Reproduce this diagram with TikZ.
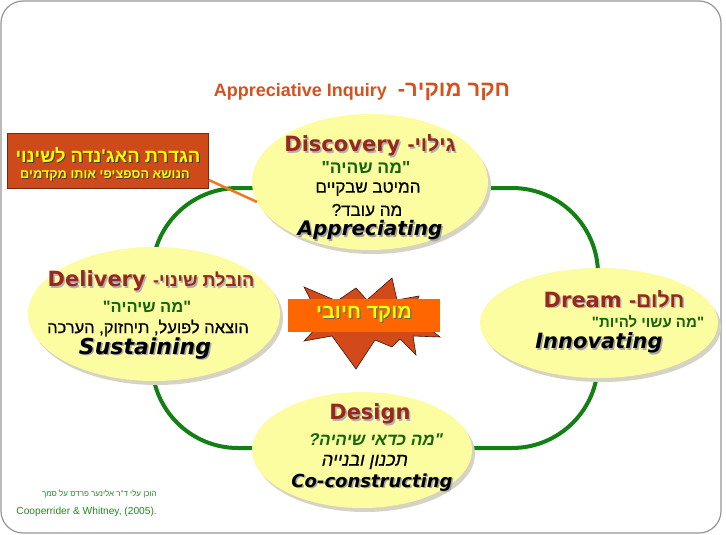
\documentclass[tikz,border=0pt]{standalone}
\usepackage{fontspec}
\usetikzlibrary{shapes.geometric,shadows}
\TeXXeTstate=1
\newfontfamily\heb[Script=Hebrew]{Liberation Sans}
\newfontfamily\hebm[Script=Hebrew,FakeBold=0.7]{Liberation Sans}
\newfontfamily\hebsl[Script=Hebrew,FakeSlant=0.2,FakeBold=0.7]{Liberation Sans}
\newfontfamily\hebslb[Script=Hebrew,FakeSlant=0.2]{Liberation Sans Bold}
\newfontfamily\vfont[ItalicFont={DejaVu Sans Oblique},BoldFont={DejaVu Sans Bold},BoldItalicFont={DejaVu Sans Bold Oblique}]{DejaVu Sans}
\newfontfamily\afont{Liberation Sans}
\newcommand\fsz[1]{\fontsize{#1}{#1}\selectfont}
\newcommand\shd[4]{\rlap{\kern#3\raisebox{-#3}{\color{#2}#4}}{\color{#1}#4}}
\definecolor{ellfill}{RGB}{252,252,160}
\definecolor{ellshadow}{RGB}{214,210,196}
\definecolor{ringgreen}{RGB}{18,128,18}
\definecolor{titred}{RGB}{150,40,30}
\definecolor{qgreen}{RGB}{20,100,10}
\definecolor{titleor}{RGB}{212,82,30}
\definecolor{boxred}{RGB}{207,74,26}
\definecolor{boxedge}{RGB}{120,40,15}
\definecolor{linkor}{RGB}{240,120,34}
\definecolor{starred}{RGB}{210,74,26}
\definecolor{focusor}{RGB}{255,102,0}
\definecolor{hl}{RGB}{255,255,0}
\definecolor{notegreen}{RGB}{30,140,30}
\definecolor{framegray}{RGB}{150,150,150}
\begin{document}
\begin{tikzpicture}[x=1pt,y=-1pt,
  ell/.style={ellipse, fill=ellfill, inner sep=0pt,
    drop shadow={shadow xshift=3pt,shadow yshift=-4pt,fill=ellshadow,opacity=1}},
  ttl/.style={font=\vfont\bfseries\fsz{21}, inner sep=0pt},
  quo/.style={font=\heb\bfseries\fsz{17.5}, text=qgreen, inner sep=0pt},
  hebline/.style={font=\hebm\fsz{17}, inner sep=0pt},
  eng/.style={font=\vfont\bfseries\itshape\fsz{20}, inner sep=0pt},
  note/.style={text=notegreen, anchor=east, inner sep=0pt},
]
\useasboundingbox[fill=white] (0,0) rectangle (726,535);
\draw[framegray, line width=1.2pt, rounded corners=22pt] (1,1) rectangle (721,533);

% ring
\node[rectangle, rounded corners=86pt, draw=ringgreen, line width=4pt, minimum width=446pt, minimum height=260pt, inner sep=0pt] (ring) at (375,318) {};

% ellipses
\node[ell, minimum width=236pt, minimum height=136pt] (disc) at (370,182) {};
\node[ell, minimum width=252pt, minimum height=134pt] (deliv) at (154,314) {};
\node[ell, minimum width=238pt, minimum height=110pt] (dream) at (599,323) {};
\node[ell, minimum width=220pt, minimum height=116pt] (design) at (362,450) {};

% title
\node[font=\afont\bfseries\fsz{18}, text=titleor, inner sep=0pt] (title) at (362,92)
  {Appreciative Inquiry\hspace{11pt}{\heb\bfseries\fsz{22}\beginR חקר מוקיר-\endR}};

% agenda box
\node[rectangle, fill=boxred, draw=boxedge, line width=0.8pt, minimum width=201pt, minimum height=55pt, inner sep=0pt] (agenda) at (108,161) {};
\node[font=\heb\bfseries\fsz{18.5}, inner sep=0pt] (ag1) at (108,156)
  {\shd{hl}{black!75}{1.2pt}{\beginR הגדרת האג'נדה לשינוי\endR}};
\node[font=\heb\bfseries\fsz{12.8}, inner sep=0pt] (ag2) at (105,176)
  {\shd{hl}{black!75}{1pt}{\beginR הנושא הספציפי אותו מקדמים\endR}};
\draw[linkor, line width=2.5pt] ([yshift=-19pt]agenda.east) -- (disc.190);

% Discovery
\node[ttl] (dT) at (370,146) {\shd{titred}{black!30}{1.5pt}{Discovery {\heb\bfseries\beginR גילוי-\endR}}};
\node[quo] (dQ) at (366,168) {\beginR "מה שהיה"\endR};
\node[hebline] (dL3) at (368,189) {\beginR המיטב שבקיים\endR};
\node[hebline] (dL4) at (367,210) {\beginR מה עובד?\endR};
\node[eng] (dE) at (370,231) {\shd{black}{black!35}{1.5pt}{Appreciating}};

% Delivery
\node[ttl] (vT) at (151,282) {\shd{titred}{black!30}{1.5pt}{Delivery {\heb\bfseries\fsz{18}\beginR הובלת שינוי-\endR}}};
\node[quo, font=\heb\bfseries\fsz{16.5}] (vQ) at (147,307) {\beginR "מה שיהיה"\endR};
\node[hebline, font=\hebm\fsz{16.5}] (vL3) at (148,328) {\beginR הוצאה לפועל, תיחזוק, הערכה\endR};
\node[eng, font=\vfont\bfseries\itshape\fsz{22}] (vE) at (145,349) {\shd{black}{black!35}{1.5pt}{Sustaining}};

% Dream
\node[ttl] (rT) at (614,300) {\shd{titred}{black!30}{1.5pt}{Dream {\heb\bfseries\beginR חלום-\endR}}};
\node[quo, font=\heb\bfseries\fsz{15}] (rQ) at (648,322) {\beginR "מה עשוי להיות"\endR};
\node[eng, font=\vfont\bfseries\itshape\fsz{21}] (rE) at (599,344) {\shd{black}{black!35}{1.5pt}{Innovating}};

% Design
\node[ttl] (gT) at (370,415) {\shd{titred}{black!30}{1.5pt}{Design}};
\node[quo, font=\hebslb\fsz{17}] (gQ) at (375,440) {\beginR "מה כדאי שיהיה?\endR};
\node[hebline, font=\hebsl\fsz{18}] (gL3) at (364,462) {\beginR תכנון ובנייה\endR};
\node[eng, font=\vfont\bfseries\itshape\fsz{18}] (gE) at (372,483) {\shd{black}{black!35}{1.5pt}{Co-constructing}};

% star + focus
\filldraw[fill=starred, draw=black!70!starred, line width=0.6pt]
  (304,341) -- (322,322) -- (304,287) -- (337,301) -- (356,288) -- (367,300) -- (392,278)
  -- (397,300) -- (419,296) -- (412,315) -- (440,337) -- (413,336) -- (416,355) -- (400,339)
  -- (392,347) -- (375,340) -- (356,369) -- (332,336) -- cycle;
\node[rectangle, fill=focusor, minimum width=152pt, minimum height=33pt, inner sep=0pt,
  font=\heb\bfseries\fsz{20}] (focus) at (364,315) {\shd{hl}{black!60}{1.2pt}{\beginR מוקד חיובי\endR}};

% footnote
\node[note, font=\heb\fsz{8}] (note1) at (157,494) {\beginR הוכן עלי ד"ר אלינער פרדס על סמך\endR};
\node[note, font=\afont\fsz{10.2}] (note2) at (157,512) {Cooperrider \& Whitney, (2005).};
\end{tikzpicture}
\end{document}
